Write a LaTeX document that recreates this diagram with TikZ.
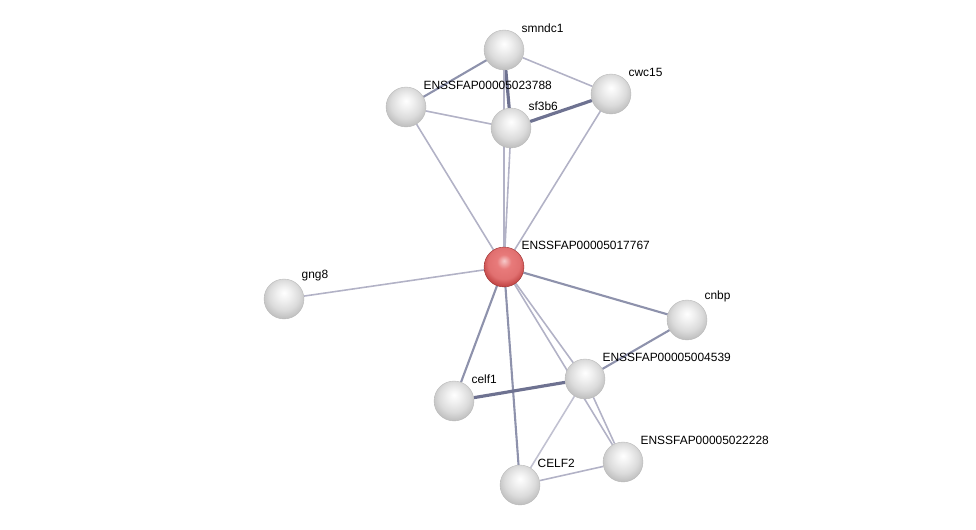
\documentclass[tikz,border=0pt]{standalone}
\usepackage{fontspec}
\setmainfont{Liberation Sans}
\usetikzlibrary{backgrounds}
\definecolor{weakedge}{RGB}{178,178,198}
\definecolor{midedge}{RGB}{142,146,172}
\definecolor{strongedge}{RGB}{110,114,145}
\definecolor{hubmid}{RGB}{232,122,122}
\definecolor{hubrim}{RGB}{196,72,72}
\definecolor{hubedge}{RGB}{150,45,45}
\pgfdeclareradialshading{protball}{\pgfpoint{0bp}{8bp}}{%
  color(0bp)=(white); color(9bp)=(gray!12); color(19bp)=(gray!28);
  color(27bp)=(gray!48); color(33bp)=(gray!68); color(50bp)=(gray!68)}
\pgfdeclareradialshading{hubball}{\pgfpoint{0bp}{8bp}}{%
  color(0bp)=(hubmid!40!white); color(9bp)=(hubmid); color(20bp)=(hubmid!80!hubrim);
  color(27bp)=(hubrim); color(33bp)=(hubedge); color(50bp)=(hubedge)}

\begin{document}
\begin{tikzpicture}[
  x=0.02cm, y=-0.02cm,
  prot/.style={circle,inner sep=0pt,minimum size=0.8cm,shading=protball,
    draw=gray!55,line width=0.2pt},
  hub/.style={prot,shading=hubball,draw=hubedge},
  lab/.style={font=\fontsize{6.8}{8}\selectfont,inner sep=1pt,label distance=1pt},
  weak/.style={draw=weakedge,line width=0.9pt},
  mid/.style={draw=midedge,line width=1.2pt},
  strong/.style={draw=strongedge,line width=1.8pt},
  ]
  \path[use as bounding box] (0,0) rectangle (976,530);
  \node[prot,label={[lab]45:smndc1}] (smndc1) at (504,50) {};
  \node[prot,label={[lab]45:ENSSFAP00005023788}] (p23788) at (406,107) {};
  \node[prot,label={[lab]45:sf3b6}] (sf3b6) at (511,128) {};
  \node[prot,label={[lab]45:cwc15}] (cwc15) at (611,94) {};
  \node[hub,label={[lab]45:ENSSFAP00005017767}] (p17767) at (504,267) {};
  \node[prot,label={[lab]45:gng8}] (gng8) at (284,299) {};
  \node[prot,label={[lab]45:cnbp}] (cnbp) at (687,320) {};
  \node[prot,label={[lab]45:ENSSFAP00005004539}] (p04539) at (585,379) {};
  \node[prot,label={[lab]45:celf1}] (celf1) at (454,401) {};
  \node[prot,label={[lab]45:ENSSFAP00005022228}] (p22228) at (623,462) {};
  \node[prot,label={[lab]45:CELF2}] (CELF2) at (520,485) {};

  \begin{pgfonlayer}{background}
    % top cluster
    \draw[mid] (smndc1) -- (p23788);
    \draw[weak] (smndc1) -- (cwc15);
    \draw[strong] (smndc1) -- (sf3b6);
    \draw[weak] (p23788) -- (sf3b6);
    \draw[strong] (sf3b6) -- (cwc15);
    % hub
    \draw[weak] (p17767) -- (smndc1);
    \draw[weak] (p17767) -- (sf3b6);
    \draw[weak] (p17767) -- (p23788);
    \draw[weak] (p17767) -- (cwc15);
    \draw[weak] (p17767) -- (gng8);
    \draw[mid] (p17767) -- (cnbp);
    \draw[mid] (p17767) -- (celf1);
    \draw[mid] (p17767) -- (CELF2);
    \draw[weak] (p17767) -- (p04539);
    \draw[weak] (p17767) -- (p22228);
    % bottom cluster
    \draw[mid] (cnbp) -- (p04539);
    \draw[strong] (celf1) -- (p04539);
    \draw[weak,draw=weakedge!80] (p04539) -- (CELF2);
    \draw[weak] (p04539) -- (p22228);
    \draw[weak] (CELF2) -- (p22228);
  \end{pgfonlayer}
\end{tikzpicture}
\end{document}
